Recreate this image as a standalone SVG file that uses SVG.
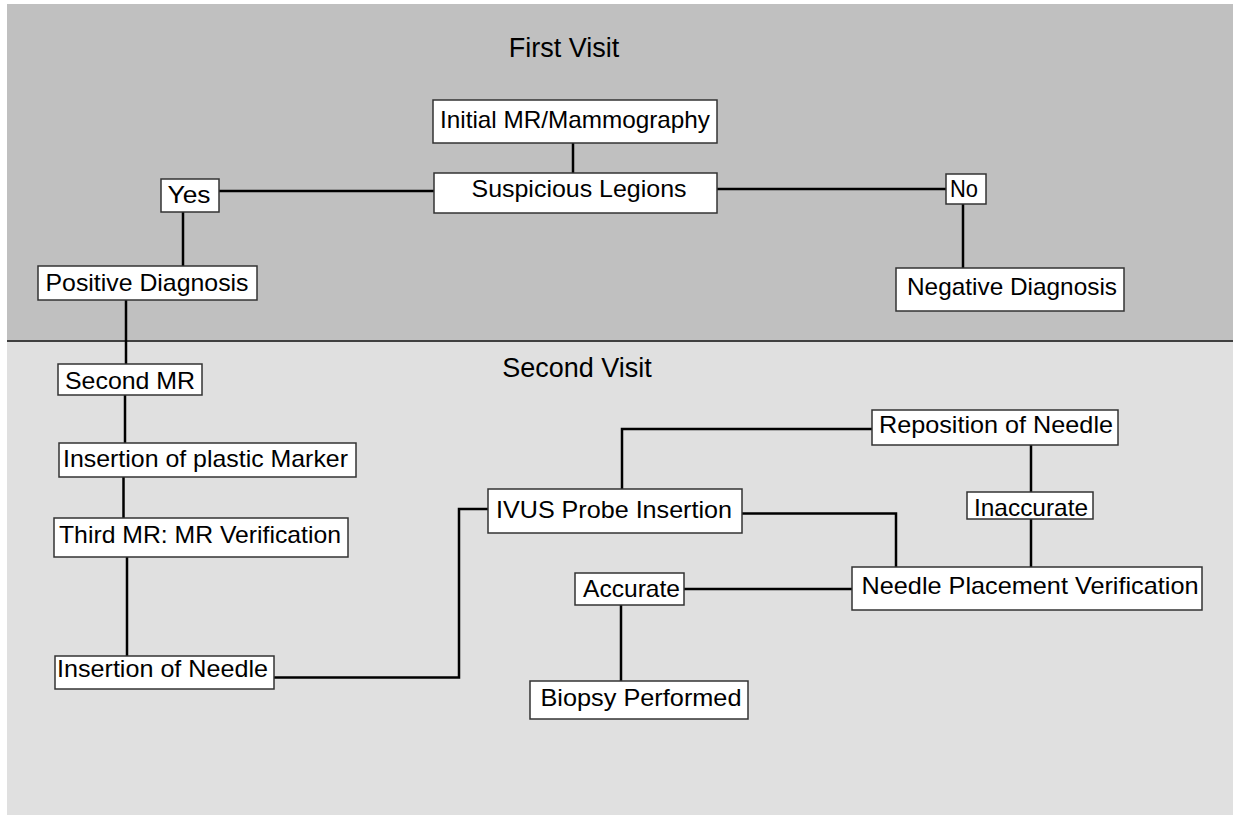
<svg xmlns="http://www.w3.org/2000/svg" width="1233" height="815" viewBox="0 0 1233 815">
<style>
.box{fill:#ffffff;stroke:#333333;stroke-width:1.5}
.t{font-family:"Liberation Sans",Arial,sans-serif;font-size:24px;fill:#000000;text-anchor:middle}
.title{font-family:"Liberation Sans",Arial,sans-serif;font-size:27px;fill:#000000;text-anchor:middle}
.c{fill:none;stroke:#000000;stroke-width:2.5}
</style>
<rect x="0" y="0" width="1233" height="815" fill="#ffffff"/>
<g id="background">
<rect x="7" y="4" width="1226" height="337" fill="#c0c0c0"/>
<rect x="7" y="341" width="1226" height="474" fill="#e0e0e0"/>
<line x1="7" y1="341" x2="1233" y2="341" stroke="#404040" stroke-width="2"/>
<text class="title" x="564" y="57">First Visit</text>
<text class="title" x="577" y="377">Second Visit</text>
</g>
<g id="connectors">
<path class="c" d="M573 143 V173"/>
<path class="c" d="M219 191 H434"/>
<path class="c" d="M717 189 H946"/>
<path class="c" d="M183 212 V266"/>
<path class="c" d="M963 204 V268"/>
<path class="c" d="M126 300 V364"/>
<path class="c" d="M125 395 V443"/>
<path class="c" d="M123.5 477 V518"/>
<path class="c" d="M127 557 V656"/>
<path class="c" d="M272 677.5 H459 V509 H488"/>
<path class="c" d="M622 489 V429 H872"/>
<path class="c" d="M1031 445 V492"/>
<path class="c" d="M1031 519 V567"/>
<path class="c" d="M740 513.5 H896 V567"/>
<path class="c" d="M684 589 H852"/>
<path class="c" d="M621 605 V681"/>
</g>
<g id="initial"><rect class="box" x="433" y="100" width="284" height="43"/><text class="t" x="575" y="128" textLength="270" lengthAdjust="spacingAndGlyphs">Initial MR/Mammography</text></g>
<g id="suspicious"><rect class="box" x="434" y="173" width="283" height="40"/><text class="t" x="579" y="197" textLength="215" lengthAdjust="spacingAndGlyphs">Suspicious Legions</text></g>
<g id="yes"><rect class="box" x="161" y="179" width="58" height="33"/><text class="t" x="189" y="203" textLength="43" lengthAdjust="spacingAndGlyphs">Yes</text></g>
<g id="no"><rect class="box" x="946" y="174" width="40" height="30"/><text class="t" x="964" y="197" textLength="28" lengthAdjust="spacingAndGlyphs">No</text></g>
<g id="positive"><rect class="box" x="38" y="266" width="219" height="34"/><text class="t" x="147" y="291" textLength="203" lengthAdjust="spacingAndGlyphs">Positive Diagnosis</text></g>
<g id="negative"><rect class="box" x="896" y="268" width="228" height="43"/><text class="t" x="1012" y="295" textLength="210" lengthAdjust="spacingAndGlyphs">Negative Diagnosis</text></g>
<g id="second-mr"><rect class="box" x="58" y="364" width="144" height="31"/><text class="t" x="130" y="389" textLength="130" lengthAdjust="spacingAndGlyphs">Second MR</text></g>
<g id="plastic-marker"><rect class="box" x="59" y="443" width="297" height="34"/><text class="t" x="205.5" y="467" textLength="285" lengthAdjust="spacingAndGlyphs">Insertion of plastic Marker</text></g>
<g id="third-mr"><rect class="box" x="54" y="518" width="294" height="39"/><text class="t" x="200" y="543" textLength="282" lengthAdjust="spacingAndGlyphs">Third MR: MR Verification</text></g>
<g id="insert-needle"><rect class="box" x="55" y="656" width="219" height="33"/><text class="t" x="162.5" y="677" textLength="211" lengthAdjust="spacingAndGlyphs">Insertion of Needle</text></g>
<g id="ivus"><rect class="box" x="488" y="489" width="254" height="44"/><text class="t" x="614" y="518" textLength="236" lengthAdjust="spacingAndGlyphs">IVUS Probe Insertion</text></g>
<g id="reposition"><rect class="box" x="872" y="410" width="246" height="35"/><text class="t" x="996" y="433" textLength="234" lengthAdjust="spacingAndGlyphs">Reposition of Needle</text></g>
<g id="inaccurate"><rect class="box" x="967" y="492" width="126" height="27"/><text class="t" x="1031" y="516" textLength="114" lengthAdjust="spacingAndGlyphs">Inaccurate</text></g>
<g id="verification"><rect class="box" x="852" y="567" width="350" height="43"/><text class="t" x="1030" y="594" textLength="337" lengthAdjust="spacingAndGlyphs">Needle Placement Verification</text></g>
<g id="accurate"><rect class="box" x="575" y="573" width="109" height="32"/><text class="t" x="631.5" y="597" textLength="97" lengthAdjust="spacingAndGlyphs">Accurate</text></g>
<g id="biopsy"><rect class="box" x="530" y="681" width="218" height="38"/><text class="t" x="641" y="706" textLength="201" lengthAdjust="spacingAndGlyphs">Biopsy Performed</text></g>
</svg>
